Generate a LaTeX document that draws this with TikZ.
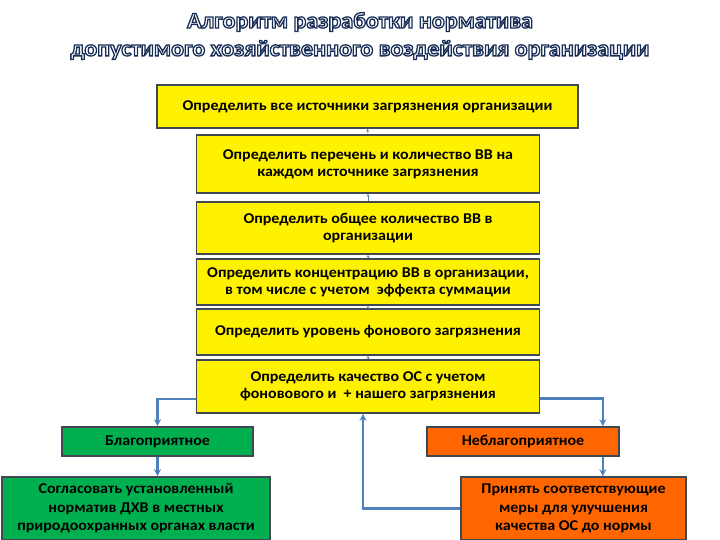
\documentclass[tikz,border=0pt]{standalone}
\usepackage{fontspec}
\setmainfont{Carlito}[FakeStretch=1.07]
\usetikzlibrary{arrows.meta}
\definecolor{boxline}{RGB}{64,72,84}
\definecolor{arrblue}{RGB}{79,129,189}
\definecolor{ygreen}{RGB}{0,176,80}
\definecolor{oorange}{RGB}{255,102,0}
% outlined title letters: white fill, dark blue stroke
\newcommand{\outlinetext}[1]{{\color{white}\special{pdf:literal direct 2 Tr 1.3 w 0.10 0.18 0.34 RG}#1\special{pdf:literal direct 0 Tr}}}
\tikzset{
  box/.style={draw=boxline,line width=1.6bp,align=center,inner sep=2bp,
    font=\bfseries\fontsize{15}{17}\selectfont},
  ybox/.style={box,fill=yellow},
  gbox/.style={box,fill=ygreen},
  obox/.style={box,fill=oorange},
  arr/.style={draw=arrblue,line width=2.4bp,-{Stealth[length=7bp,width=7bp]}},
  link/.style={draw=arrblue!70!gray,line width=0.6bp,-{Stealth[length=3bp,width=3bp]}}
}
\begin{document}
\begin{tikzpicture}[x=1bp,y=-1bp]
  \useasboundingbox (0,0) rectangle (720,540);
  \node[font=\bfseries\fontsize{22.5}{28}\selectfont,align=center] (title) at (360,36)
    {\outlinetext{Алгоритм разработки норматива}\\
     \outlinetext{допустимого хозяйственного воздействия организации}};
  % yellow chain
  \node[ybox,minimum width=421bp,minimum height=43bp] (s1) at (367.5,106.5)
    {Определить все источники загрязнения организации};
  \node[ybox,minimum width=343bp,minimum height=58bp] (s2) at (368,164)
    {Определить перечень и количество ВВ на\\каждом источнике загрязнения};
  \node[ybox,minimum width=343bp,minimum height=52bp] (s3) at (368,228)
    {Определить общее количество ВВ в\\организации};
  \node[ybox,minimum width=343bp,minimum height=46bp] (s4) at (368,282)
    {Определить концентрацию ВВ в организации,\\в том числе с учетом~ эффекта суммации};
  \node[ybox,minimum width=343bp,minimum height=46bp] (s5) at (368,332)
    {Определить уровень фонового загрязнения};
  \node[ybox,minimum width=343bp,minimum height=53bp] (s6) at (368,386.5)
    {Определить качество ОС с учетом\\фоновового и~ + нашего загрязнения};
  \foreach \a/\b in {s2/s1,s3/s2,s4/s3,s5/s4,s6/s5}
    \draw[link] (\a.north) -- (\b.south);
  % branches
  \node[gbox,minimum width=191bp,minimum height=29bp] (good) at (157.5,441.5)
    {Благоприятное};
  \node[gbox,minimum width=268bp,minimum height=63bp,
    font=\bfseries\fontsize{15}{18.5}\selectfont] (goodact) at (136,508.5)
    {Согласовать установленный\\норматив ДХВ в местных\\природоохранных органах власти};
  \node[obox,minimum width=192bp,minimum height=29bp] (bad) at (523,441.5)
    {Неблагоприятное};
  \node[obox,minimum width=225bp,minimum height=63bp,
    font=\bfseries\fontsize{15}{18.5}\selectfont] (badact) at (573.5,508.5)
    {Принять соответствующие\\меры для улучшения\\качества ОС до нормы};
  \coordinate (bd) at ([xshift=-17bp]bad.north east);
  \draw[arr] ([yshift=-12.5bp]s6.west) -| (good.north);
  \draw[arr] (good.south) -- (good.south |- goodact.north);
  \draw[arr] ([yshift=-12bp]s6.east) -| (bd);
  \draw[arr] ([xshift=-17bp]bad.south east) -- ([xshift=-17bp]bad.south east |- badact.north);
  \draw[arr] (badact.west) -| ([xshift=-5bp]s6.south);
\end{tikzpicture}
\end{document}
